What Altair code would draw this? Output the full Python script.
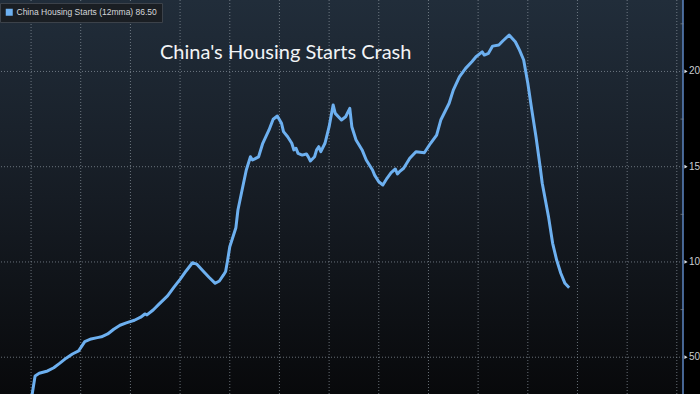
import altair as alt
import pandas as pd

# ---- data ----
dates = [
    "2002-01", "2002-03", "2002-05", "2002-09", "2002-12", "2003-03", "2003-06", "2003-09", "2003-12",
    "2004-03", "2004-06", "2004-09", "2004-11", "2005-02", "2005-05", "2005-08", "2005-11",
    "2006-03", "2006-06", "2006-08", "2006-09", "2006-12", "2007-03", "2007-07", "2007-10",
    "2008-01", "2008-04", "2008-07", "2008-09", "2008-12", "2009-03", "2009-06", "2009-08",
    "2009-10", "2009-11", "2009-12", "2010-01", "2010-04", "2010-05", "2010-07", "2010-09",
    "2010-11", "2010-12", "2011-03", "2011-05", "2011-08", "2011-10", "2011-12", "2012-02",
    "2012-03", "2012-05", "2012-07", "2012-08", "2012-09", "2012-10", "2012-12", "2013-02",
    "2013-03", "2013-04", "2013-06", "2013-07", "2013-08", "2013-09", "2013-11", "2014-01",
    "2014-03", "2014-04", "2014-07", "2014-09", "2014-11", "2014-12", "2015-02", "2015-05",
    "2015-07", "2015-10", "2015-11", "2016-01", "2016-03", "2016-05", "2016-07", "2016-09",
    "2016-10", "2016-11", "2017-01", "2017-04", "2017-07", "2017-11", "2018-02", "2018-05",
    "2018-07", "2018-11", "2019-01", "2019-04", "2019-07", "2019-10", "2019-12", "2020-03",
    "2020-04", "2020-06", "2020-08", "2020-11", "2021-01", "2021-04", "2021-07", "2021-09",
    "2021-11", "2022-01", "2022-03", "2022-05", "2022-07", "2022-08", "2022-11", "2023-01",
    "2023-03", "2023-05", "2023-07", "2023-09",
]
values = [
    27.0, 40.2, 41.6, 42.8, 44.5, 46.9, 49.5, 51.7, 53.3,
    58.2, 59.6, 60.3, 60.7, 62.2, 64.7, 66.8, 68.0,
    69.4, 71.0, 72.7, 72.2, 74.8, 78.0, 82.2, 86.7,
    90.9, 95.4, 99.6, 98.9, 95.4, 92.0, 88.8, 90.0,
    93.2, 95.0, 101.0, 108.0, 118.0, 127.3, 137.8, 148.3,
    155.2, 153.5, 155.2, 162.3, 169.3, 174.9, 176.6, 172.8,
    168.4, 165.7, 162.3, 158.8, 159.7, 157.0, 156.1, 156.7,
    155.2, 153.0, 155.2, 158.8, 160.5, 157.9, 162.3, 171.0,
    182.4, 178.0, 174.5, 176.2, 180.6, 171.0, 164.0, 158.8,
    153.5, 148.3, 145.6, 142.1, 140.4, 143.9, 146.9, 148.8,
    146.2, 147.4, 149.2, 154.4, 157.9, 157.3, 162.3, 166.6,
    174.5, 183.3, 190.2, 197.2, 201.6, 205.1, 207.7, 210.3,
    208.6, 209.5, 213.3, 213.9, 216.1, 219.1, 215.6, 211.2,
    206.0, 193.8, 179.7, 165.7, 150.0, 141.3, 123.8, 109.8,
    101.0, 94.1, 88.8, 86.5,
]
series_name = "China Housing Starts (12mma) 86.50"
title_text = "China's Housing Starts Crash"
x_grid_dates = ["2002-01-01", "2004-01-01", "2006-01-01", "2008-01-01", "2010-01-01",
                "2012-01-01", "2014-01-01", "2016-01-01", "2018-01-01", "2020-01-01",
                "2022-01-01", "2024-01-01", "2026-01-01", "2028-01-01"]
y_tick_labels = [50, 100, 150, 200]
y_minor_ticks = [75, 125, 175, 225]

# ---- styling ----
W, H = 683, 394
line_color = "#6db0f0"
grid_color = "#8f98a3"

df = pd.DataFrame({"date": [d + "-01" for d in dates], "value": values,
                   "series": [series_name] * len(dates)})

x_scale = alt.Scale(type="utc", domain=[alt.DateTime(year=2000, month=10, date=1, utc=True),
                                        alt.DateTime(year=2028, month=4, date=1, utc=True)])
y_scale = alt.Scale(domain=[30.7, 237.5], nice=False, zero=False)

bg_gradient = alt.LinearGradient(
    gradient="linear",
    stops=[alt.GradientStop(offset=0, color="#212d3a"),
           alt.GradientStop(offset=0.5, color="#161c24"),
           alt.GradientStop(offset=1, color="#08090b")],
    x1=0, x2=0, y1=0, y2=1,
)

bg = alt.Chart(pd.DataFrame({"a": [0]})).mark_rect(color=bg_gradient).encode(
    x=alt.value(0), x2=alt.value(W), y=alt.value(0), y2=alt.value(H)
)

xgrid = alt.Chart(pd.DataFrame({"d": x_grid_dates})).mark_rule(
    color=grid_color, strokeDash=[1, 2], strokeWidth=1, opacity=0.7
).encode(x=alt.X("d:T", scale=x_scale, axis=None))

ygrid = alt.Chart(pd.DataFrame({"v": y_tick_labels})).mark_rule(
    color=grid_color, strokeDash=[1, 2], strokeWidth=1, opacity=0.7
).encode(y=alt.Y("v:Q", scale=y_scale, axis=None))

# right-hand value axis (domain line, ticks, labels) drawn through the y scale
axis_domain = alt.Chart(pd.DataFrame({"a": [0]})).mark_rule(
    color="#5d86c2", strokeWidth=1.5
).encode(x=alt.value(W), y=alt.value(0), y2=alt.value(H))

minor = alt.Chart(pd.DataFrame({"m": y_minor_ticks})).mark_tick(
    orient="horizontal", size=3, thickness=1, color="#7d8894"
).encode(x=alt.value(W - 1), y=alt.Y("m:Q", scale=y_scale, axis=None))

major = alt.Chart(pd.DataFrame({"v": y_tick_labels})).mark_point(
    shape="triangle-right", filled=True, size=14, color="#d8dde3", opacity=1
).encode(x=alt.value(W + 3), y=alt.Y("v:Q", scale=y_scale, axis=None))

labels = alt.Chart(pd.DataFrame({"v": y_tick_labels})).mark_text(
    align="left", baseline="middle", font="Liberation Sans", fontSize=10, color="#c9cdd2"
).encode(x=alt.value(W + 6), y=alt.Y("v:Q", scale=y_scale, axis=None), text="v:Q")

line = alt.Chart(df).mark_line(strokeWidth=3, clip=True, strokeJoin="round").encode(
    x=alt.X("date:T", scale=x_scale, axis=None),
    y=alt.Y("value:Q", scale=y_scale, axis=None),
    color=alt.Color("series:N", scale=alt.Scale(domain=[series_name], range=[line_color]),
                    legend=alt.Legend(
                        orient="none", legendX=0, legendY=3, title=None,
                        symbolType="square", symbolSize=49,
                        symbolFillColor=line_color, symbolStrokeColor=line_color,
                        symbolStrokeWidth=0, symbolOpacity=1,
                        labelFont="Liberation Sans", labelFontSize=8.5, labelColor="#d4d7db",
                        labelOffset=3, padding=5, fillColor="#1a1e23",
                        strokeColor="#3c424a", cornerRadius=0,
                    )),
)

title = alt.Chart(pd.DataFrame({"t": [title_text]})).mark_text(
    align="left", baseline="alphabetic", font="Lato", fontSize=20, color="#f2f4f6"
).encode(x=alt.value(160), y=alt.value(59), text="t:N")

chart = alt.layer(bg, xgrid, ygrid, axis_domain, minor, major, labels, line, title).properties(
    width=W, height=H,
    autosize=alt.AutoSizeParams(type="none"),
    padding={"left": 0, "top": 0, "right": 700 - W, "bottom": 0},
).configure(background="#000000").configure_view(stroke=None)

chart.save("out.html", embed_options={"renderer": "svg", "actions": False})
